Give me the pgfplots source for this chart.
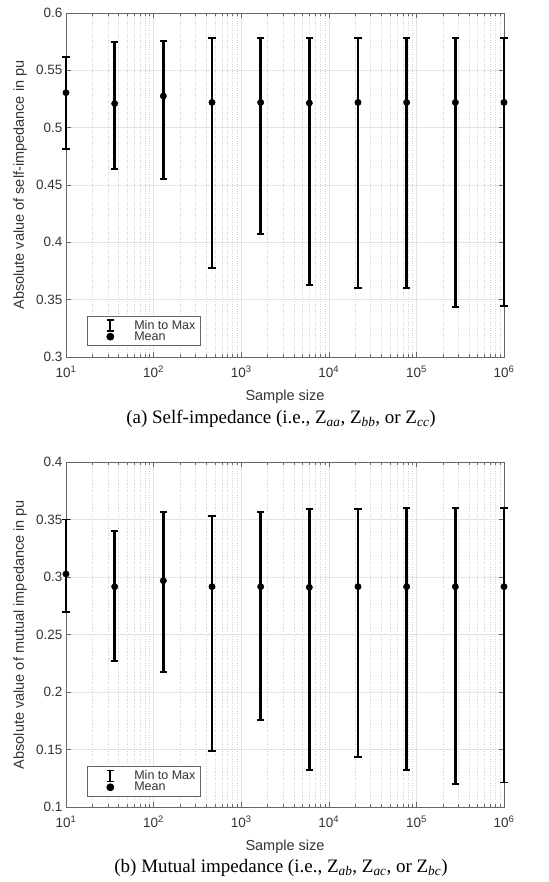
\documentclass[border=0pt]{standalone}
\usepackage{pgfplots}
\pgfplotsset{compat=1.18}
\usepackage{pgfplotstable}
\usepackage{fontspec}
\setmainfont{Liberation Sans}
\newfontfamily\capfont{Liberation Serif}

\pgfplotstableread{
x mean max min
10 0.5305 0.5616 0.4817
35.94 0.5210 0.5750 0.4640
129.15 0.5276 0.5756 0.4550
464.16 0.5220 0.5780 0.3776
1668.1 0.5220 0.5780 0.4070
5994.8 0.5215 0.5780 0.3628
21544 0.5220 0.5780 0.3600
77426 0.5220 0.5780 0.3605
278256 0.5220 0.5780 0.3435
1000000 0.5220 0.5780 0.3445
}\dataA

\pgfplotstableread{
x mean max min
10 0.3026 0.3500 0.2696
35.94 0.2916 0.3397 0.2272
129.15 0.2968 0.3568 0.2171
464.16 0.2916 0.3528 0.1487
1668.1 0.2916 0.3562 0.1759
5994.8 0.2910 0.3589 0.1324
21544 0.2916 0.3594 0.1437
77426 0.2916 0.3600 0.1324
278256 0.2916 0.3600 0.1203
1000000 0.2916 0.3600 0.1214
}\dataB

\definecolor{axgray}{gray}{0.4}
\definecolor{txtgray}{gray}{0.2}

\begin{document}
\begin{tikzpicture}
\path[use as bounding box] (0pt,0pt) rectangle (548pt,-882pt);

\begin{axis}[at={(66pt,-357pt)}, anchor=south west, clip=false,
    xmode=log, scale only axis, width=438pt, height=344pt,
    xmin=10, xmax=1e6,
    xtick={10,100,1000,10000,100000,1000000},
    xticklabels={10\textsuperscript{1},10\textsuperscript{2},10\textsuperscript{3},10\textsuperscript{4},10\textsuperscript{5},10\textsuperscript{6}},
    xmajorgrids, xminorgrids, ymajorgrids,
    major grid style={gray!22, line width=0.5pt},
    minor grid style={gray!35, dotted, line width=0.5pt},
    axis line style={axgray, line width=0.6pt},
    tick style={axgray, line width=0.5pt},
    tick align=inside, major tick length=5pt, minor tick length=3pt,
    ticklabel style={font=\fontsize{13.5}{15}\selectfont, text=txtgray},
    xticklabel style={yshift=-5pt},
    /pgf/number format/assume math mode=true,
    yticklabel style={/pgf/number format/fixed, /pgf/number format/precision=2},
    xlabel={Sample size},
    ylabel style={at={(axis description cs:-0.105,0.5)}, anchor=center, font=\fontsize{14.5}{16}\selectfont, text=txtgray},
    xlabel style={at={(axis description cs:0.5,-0.116)}, anchor=center, font=\fontsize{14.5}{16}\selectfont, text=txtgray},
    legend style={at={(0.048,0.032)}, anchor=south west, font=\fontsize{12.5}{14}\selectfont,
      draw=axgray, line width=0.6pt, text=txtgray, row sep=-3pt, inner xsep=3pt, inner ysep=2pt},
    legend cell align=left,
  ymin=0.3, ymax=0.6, ytick={0.3,0.35,...,0.6},
  ylabel={Absolute value of self-impedance in pu}]
\addlegendimage{legend image code/.code={
  \path[draw=none, fill=none] (0pt,-5pt) rectangle (42pt,5pt);
  \draw[black, line width=2.2pt] (20pt,-5.5pt) -- (20pt,5.5pt);
  \draw[black, line width=1.6pt] (16.5pt,5.5pt) -- (23.5pt,5.5pt);
  \draw[black, line width=1.6pt] (16.5pt,-5.5pt) -- (23.5pt,-5.5pt);}}
\addlegendentry{Min to Max}
\addlegendimage{legend image code/.code={
  \path[draw=none, fill=none] (0pt,-5pt) rectangle (42pt,5pt);
  \fill[black] (20pt,0pt) circle (3.6pt);}}
\addlegendentry{Mean}
\addplot[forget plot, only marks, black, mark=*, mark size=3.2pt,
    error bars/y dir=both, error bars/y explicit,
    error bars/error bar style={line width=2.8pt, black},
    error bars/error mark options={rotate=90, mark size=3.8pt, line width=1.8pt, black}]
  table[x=x, y=mean,
  y error plus expr=\thisrow{max}-\thisrow{mean},
  y error minus expr=\thisrow{mean}-\thisrow{min}] {\dataA};
\end{axis}
\node[font=\capfont\fontsize{19}{21}\selectfont, anchor=center] at (281pt,-419pt)
  {(a) Self-impedance (i.e., Z\textsubscript{\textit{aa}}, Z\textsubscript{\textit{bb}}, or Z\textsubscript{\textit{cc}})};

\begin{axis}[at={(66pt,-807pt)}, anchor=south west, clip=false,
    xmode=log, scale only axis, width=438pt, height=345pt,
    xmin=10, xmax=1e6,
    xtick={10,100,1000,10000,100000,1000000},
    xticklabels={10\textsuperscript{1},10\textsuperscript{2},10\textsuperscript{3},10\textsuperscript{4},10\textsuperscript{5},10\textsuperscript{6}},
    xmajorgrids, xminorgrids, ymajorgrids,
    major grid style={gray!22, line width=0.5pt},
    minor grid style={gray!35, dotted, line width=0.5pt},
    axis line style={axgray, line width=0.6pt},
    tick style={axgray, line width=0.5pt},
    tick align=inside, major tick length=5pt, minor tick length=3pt,
    ticklabel style={font=\fontsize{13.5}{15}\selectfont, text=txtgray},
    xticklabel style={yshift=-5pt},
    /pgf/number format/assume math mode=true,
    yticklabel style={/pgf/number format/fixed, /pgf/number format/precision=2},
    xlabel={Sample size},
    ylabel style={at={(axis description cs:-0.105,0.5)}, anchor=center, font=\fontsize{14.5}{16}\selectfont, text=txtgray},
    xlabel style={at={(axis description cs:0.5,-0.116)}, anchor=center, font=\fontsize{14.5}{16}\selectfont, text=txtgray},
    legend style={at={(0.048,0.03)}, anchor=south west, font=\fontsize{12.5}{14}\selectfont,
      draw=axgray, line width=0.6pt, text=txtgray, row sep=-3pt, inner xsep=3pt, inner ysep=2pt},
    legend cell align=left,
  ymin=0.1, ymax=0.4, ytick={0.1,0.15,...,0.4},
  ylabel={Absolute value of mutual impedance in pu}]
\addlegendimage{legend image code/.code={
  \path[draw=none, fill=none] (0pt,-5pt) rectangle (42pt,5pt);
  \draw[black, line width=2.2pt] (20pt,-5.5pt) -- (20pt,5.5pt);
  \draw[black, line width=1.6pt] (16.5pt,5.5pt) -- (23.5pt,5.5pt);
  \draw[black, line width=1.6pt] (16.5pt,-5.5pt) -- (23.5pt,-5.5pt);}}
\addlegendentry{Min to Max}
\addlegendimage{legend image code/.code={
  \path[draw=none, fill=none] (0pt,-5pt) rectangle (42pt,5pt);
  \fill[black] (20pt,0pt) circle (3.6pt);}}
\addlegendentry{Mean}
\addplot[forget plot, only marks, black, mark=*, mark size=3.2pt,
    error bars/y dir=both, error bars/y explicit,
    error bars/error bar style={line width=2.8pt, black},
    error bars/error mark options={rotate=90, mark size=3.8pt, line width=1.8pt, black}]
  table[x=x, y=mean,
  y error plus expr=\thisrow{max}-\thisrow{mean},
  y error minus expr=\thisrow{mean}-\thisrow{min}] {\dataB};
\end{axis}
\node[font=\capfont\fontsize{19}{21}\selectfont, anchor=center] at (281pt,-868pt)
  {(b) Mutual impedance (i.e., Z\textsubscript{\textit{ab}}, Z\textsubscript{\textit{ac}}, or Z\textsubscript{\textit{bc}})};
\end{tikzpicture}
\end{document}
